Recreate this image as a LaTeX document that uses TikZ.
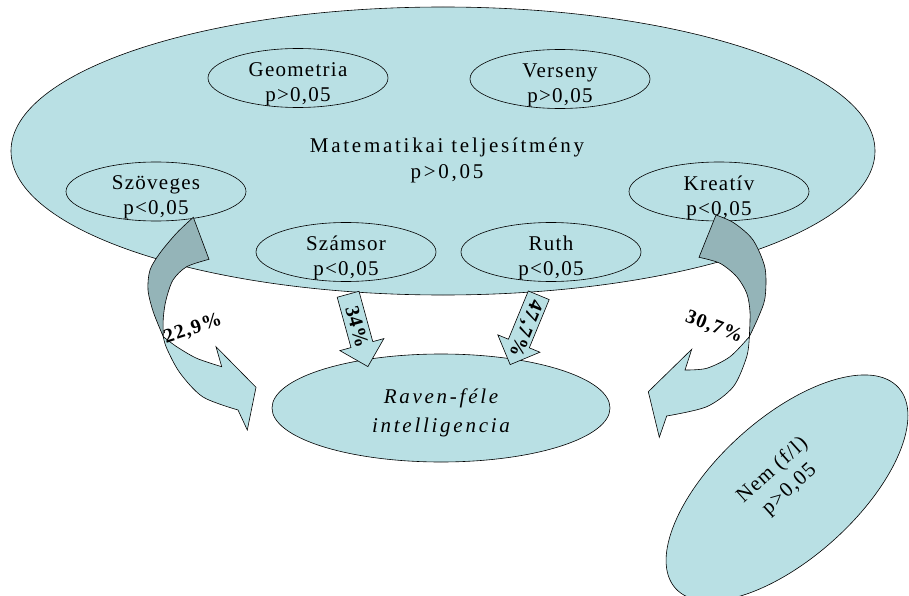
\documentclass[tikz,border=0pt]{standalone}
\usepackage{fontspec}
\setmainfont{Liberation Serif}
\newfontfamily\lblfont[LetterSpace=6]{Liberation Serif}
\newfontfamily\widefont[LetterSpace=13]{Liberation Serif}
\usetikzlibrary{shapes.geometric,shapes.arrows,calc}
\definecolor{cyanfill}{RGB}{185,224,228}
\definecolor{cyandark}{RGB}{148,180,184}

\begin{document}
\begin{tikzpicture}[x=1pt, y=-1pt, line width=0.6pt,
    ell/.style={ellipse, draw, fill=cyanfill, inner sep=0pt},
    smallell/.style={ell, minimum width=180pt, minimum height=59pt},
    lbl/.style={align=center, font=\lblfont\fontsize{21}{25}\selectfont},
    widelbl/.style={align=center, font=\widefont\fontsize{21}{26}\selectfont},
    pct/.style={font=\lblfont\bfseries\fontsize{20}{24}\selectfont},
    blockarrow/.style={single arrow, draw, fill=cyanfill, minimum height=75pt,
        single arrow head extend=11.5pt, inner xsep=0pt, inner ysep=11pt,
        text height=0pt, text depth=0pt}]
    \useasboundingbox (0,0) rectangle (909,596);
    % ── matematikai teljesítmény ──────────────────────────
    \node[ell, minimum width=864pt, minimum height=288pt] (mat) at (443,151) {};
    \node[widelbl] (mat-t) at (447,160) {Matematikai teljesítmény\\p>0,05};
    \node[smallell] (geo) at (298,78) {};
    \node[lbl] (geo-t) at ([yshift=-6pt]geo.center) {Geometria\\p>0,05};
    \node[smallell] (ver) at (560,79) {};
    \node[lbl] (ver-t) at ([yshift=-6pt]ver.center) {Verseny\\p>0,05};
    \node[smallell] (szo) at (156,191.5) {};
    \node[lbl] (szo-t) at ([yshift=-6pt]szo.center) {Szöveges\\p<0,05};
    \node[smallell] (kre) at (719,191.5) {};
    \node[lbl] (kre-t) at ([yshift=-6pt]kre.center) {Kreatív\\p<0,05};
    \node[smallell] (szam) at (346,252) {};
    \node[lbl] (szam-t) at ([yshift=-6pt]szam.center) {Számsor\\p<0,05};
    \node[smallell] (ruth) at (551,252) {};
    \node[lbl] (ruth-t) at ([yshift=-6pt]ruth.center) {Ruth\\p<0,05};
    % ── raven + nem ───────────────────────────────────────
    \node[ell, minimum width=338pt, minimum height=108pt] (rav) at (441,408) {};
    \node[widelbl, font=\widefont\itshape\fontsize{21}{29}\selectfont] (rav-t) at ([yshift=-5pt]rav.center) {Raven-féle\\intelligencia};
    \node[ell, minimum width=300pt, minimum height=140pt, rotate=42] (nem) at (787,488) {};
    \node[lbl, rotate=42] (nem-t) at (781,480) {Nem (f/l)\\p>0,05};
    % ── egyenes nyilak ────────────────────────────────────
    \node[blockarrow, rotate=-74.7, anchor=tip] (a34) at (368,367) {};
    \node[pct, rotate=-74.7] (t34) at ($(a34.tail)!0.45!(a34.tip)$) {34\%};
    \node[blockarrow, rotate=-112.4, anchor=tip] (a477) at (510,365) {};
    \node[pct, rotate=-112.4] (t477) at ($(a477.tail)!0.47!(a477.tip)$) {47,7\%};
    % ── ívelt nyilak ──────────────────────────────────────
    \draw[fill=cyandark] (193.3,217.3) -- (209,259.3)
        -- plot[smooth] coordinates {(209,259.3) (186.7,266.7) (173,280) (166,300) (163.3,318) (163.3,336.7)}
        -- plot[smooth] coordinates {(163.3,336.7) (153.3,312) (148,290) (150,270) (160,253) (176.7,233) (193.3,217.3)}
        -- cycle;
    \draw[fill=cyanfill] plot[smooth] coordinates {(163.3,336.7) (166.7,348.3) (180,373) (203,397) (238,410)}
        -- (247.3,430) -- (256,387.3) -- (216,346.7) -- (221.7,366.7)
        -- plot[smooth] coordinates {(221.7,366.7) (196.7,358.3) (176.7,346.7) (163.3,336.7)}
        -- cycle;
    \draw[fill=cyandark] (716,215) -- (699,257.3)
        -- plot[smooth] coordinates {(699,257.3) (720,263.3) (736.7,276.7) (746.7,293.3) (750,312) (749.3,336.7)}
        -- plot[smooth] coordinates {(749.3,336.7) (758,318) (765,298) (765,268) (753,240) (734,223) (716,215)}
        -- cycle;
    \draw[fill=cyanfill] plot[smooth] coordinates {(749.3,336.7) (746.7,356.7) (733.3,386.7) (706.7,406.7) (666.7,416)}
        -- (659.3,437.3) -- (648.3,391.7) -- (691.7,349.3) -- (685,370)
        -- plot[smooth] coordinates {(685,370) (706.7,368.3) (730,356.7) (749.3,336.7)}
        -- cycle;
    \node[pct, rotate=18] (t229) at (193,329) {22,9\%};
    \node[pct, rotate=-21] (t307) at (714,327) {30,7\%};
\end{tikzpicture}
\end{document}
